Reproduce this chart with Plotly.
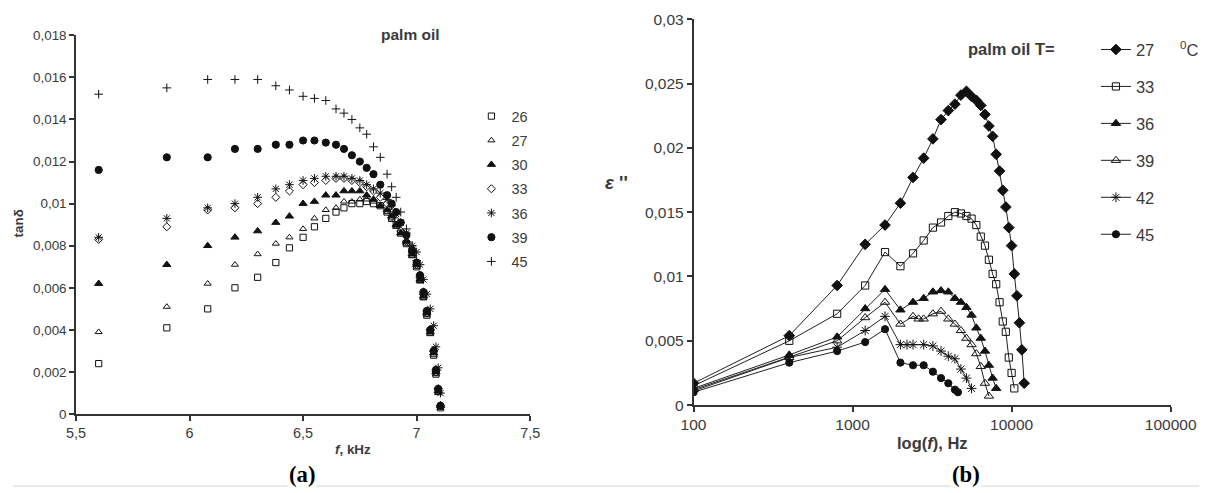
import plotly.graph_objects as go

# ---------------- (a) tan(delta) vs frequency, kHz ----------------
f_khz = [5.6, 5.9, 6.08, 6.2, 6.3, 6.38, 6.44, 6.5, 6.55, 6.6, 6.645, 6.68, 6.715, 6.75,
         6.78, 6.81, 6.84, 6.87, 6.89, 6.91, 6.93, 6.955, 6.98, 7.0, 7.015, 7.03, 7.045,
         7.06, 7.075, 7.085, 7.095, 7.105]

tan_26 = [0.0024, 0.0041, 0.0050, 0.0060, 0.0065, 0.0072, 0.0079, 0.0084, 0.0089, 0.0093,
          0.0096, 0.0098, 0.0100, 0.0100, 0.0101, 0.0100, 0.0099, 0.0096, 0.0093, 0.0090,
          0.0086, 0.0081, 0.0076, 0.0070, 0.0064, 0.0056, 0.0047, 0.0039, 0.0028, 0.0019,
          0.0011, 0.0003]
tan_27 = [0.0039, 0.0051, 0.0062, 0.0071, 0.0076, 0.0081, 0.0084, 0.0088, 0.0093, 0.0097,
          0.0098, 0.0101, 0.0101, 0.0102, 0.0102, 0.0101, 0.0099, 0.0096, 0.0093, 0.0089,
          0.0086, 0.0081, 0.0075, 0.0070, 0.0063, 0.0055, 0.0047, 0.0038, 0.0028, 0.0019,
          0.0010, 0.0003]
tan_30 = [0.0062, 0.0071, 0.0080, 0.0084, 0.0087, 0.0091, 0.0094, 0.0100, 0.0101, 0.0104,
          0.0104, 0.0106, 0.0106, 0.0106, 0.0104, 0.0102, 0.0099, 0.0097, 0.0094, 0.0090,
          0.0086, 0.0082, 0.0076, 0.0071, 0.0064, 0.0056, 0.0048, 0.0039, 0.0029, 0.0020,
          0.0011, 0.0004]
tan_33 = [0.0083, 0.0089, 0.0097, 0.0098, 0.0100, 0.0103, 0.0106, 0.0109, 0.0110, 0.0111,
          0.0112, 0.0112, 0.0111, 0.0110, 0.0108, 0.0106, 0.0103, 0.0100, 0.0096, 0.0092,
          0.0087, 0.0082, 0.0077, 0.0071, 0.0065, 0.0057, 0.0048, 0.0040, 0.0030, 0.0020,
          0.0012, 0.0004]
tan_36 = [0.0084, 0.0093, 0.0098, 0.0100, 0.0103, 0.0107, 0.0109, 0.0111, 0.0112, 0.0113,
          0.0113, 0.0113, 0.0112, 0.0111, 0.0109, 0.0107, 0.0105, 0.0102, 0.0099, 0.0095,
          0.0091, 0.0086, 0.0080, 0.0077, 0.0071, 0.0064, 0.0057, 0.0050, 0.0042, 0.0032,
          0.0022, 0.0010]
tan_39 = [0.0116, 0.0122, 0.0122, 0.0126, 0.0126, 0.0128, 0.0128, 0.0130, 0.0130, 0.0129,
          0.0128, 0.0126, 0.0123, 0.0120, 0.0117, 0.0114, 0.0109, 0.0104, 0.0100, 0.0096,
          0.0091, 0.0085, 0.0078, 0.0072, 0.0066, 0.0058, 0.0049, 0.0040, 0.0030, 0.0021,
          0.0012, 0.0004]
tan_45 = [0.0152, 0.0155, 0.0159, 0.0159, 0.0159, 0.0156, 0.0154, 0.0151, 0.0150, 0.0149,
          0.0145, 0.0143, 0.0140, 0.0136, 0.0133, 0.0127, 0.0122, 0.0114, 0.0108, 0.0103,
          0.0096, 0.0088, 0.0080, 0.0073, 0.0066, 0.0058, 0.0049, 0.0040, 0.0030, 0.0021,
          0.0012, 0.0004]

a_labels = ["26", "27", "30", "33", "36", "39", "45"]
a_series = [tan_26, tan_27, tan_30, tan_33, tan_36, tan_39, tan_45]
a_symbols = ["square-open", "triangle-up-open", "triangle-up", "diamond-open",
             "asterisk-open", "circle", "cross-thin-open"]
a_sizes = [6, 6, 7, 6, 7, 7, 6]

a_xticks = [5.5, 6, 6.5, 7, 7.5]
a_xtext = ["5,5", "6", "6,5", "7", "7,5"]
a_yticks = [0, 0.002, 0.004, 0.006, 0.008, 0.01, 0.012, 0.014, 0.016, 0.018]
a_ytext = ["0", "0,002", "0,004", "0,006", "0,008", "0,01", "0,012", "0,014", "0,016", "0,018"]

# ---------------- (b) epsilon'' vs frequency, Hz (log) ----------------
f_27 = [100, 400, 800, 1200, 1600, 2000, 2400, 2800, 3200, 3600, 4000, 4400, 4800, 5200,
        5600, 6000, 6400, 6800, 7200, 7600, 8000, 8400, 8800, 9200, 9600, 10000, 10400,
        10800, 11200, 11600, 12000]
eps_27 = [0.0017, 0.0054, 0.0093, 0.0125, 0.0140, 0.0157, 0.0177, 0.0192, 0.0207, 0.0222,
          0.0229, 0.0234, 0.0241, 0.0244, 0.0240, 0.0237, 0.0233, 0.0226, 0.0217, 0.0209,
          0.0195, 0.0182, 0.0167, 0.0154, 0.0138, 0.0124, 0.0102, 0.0085, 0.0064, 0.0043,
          0.0017]
f_33 = [100, 400, 800, 1200, 1600, 2000, 2400, 2800, 3200, 3600, 4000, 4400, 4800, 5200,
        5600, 6000, 6400, 6800, 7200, 7600, 8000, 8400, 8800, 9200, 9600, 10000, 10400]
eps_33 = [0.0015, 0.0050, 0.0071, 0.0093, 0.0119, 0.0108, 0.0118, 0.0128, 0.0138, 0.0142,
          0.0147, 0.0150, 0.0149, 0.0147, 0.0145, 0.0140, 0.0131, 0.0124, 0.0113, 0.0102,
          0.0094, 0.0080, 0.0065, 0.0057, 0.0037, 0.0025, 0.0013]
f_36 = [100, 400, 800, 1200, 1600, 2000, 2400, 2800, 3200, 3600, 4000, 4400, 4800, 5200,
        5600, 6000, 6400, 6800, 7200, 7600, 8000]
eps_36 = [0.0013, 0.0039, 0.0053, 0.0075, 0.0090, 0.0074, 0.0080, 0.0083, 0.0088, 0.0089,
          0.0088, 0.0083, 0.0080, 0.0076, 0.0070, 0.0060, 0.0052, 0.0042, 0.0031, 0.0021,
          0.0013]
f_39 = [100, 400, 800, 1200, 1600, 2000, 2400, 2600, 2800, 3200, 3600, 4000, 4400, 4800,
        5200, 5600, 6000, 6400, 6800, 7200]
eps_39 = [0.0012, 0.0037, 0.0050, 0.0068, 0.0080, 0.0063, 0.0069, 0.0067, 0.0067, 0.0071,
          0.0073, 0.0067, 0.0063, 0.0058, 0.0052, 0.0047, 0.0040, 0.0030, 0.0017, 0.0007]
f_42 = [100, 400, 800, 1200, 1600, 2000, 2200, 2400, 2800, 3200, 3600, 4000, 4400, 4800,
        5200, 5600]
eps_42 = [0.0011, 0.0037, 0.0045, 0.0058, 0.0069, 0.0047, 0.0047, 0.0047, 0.0047, 0.0046,
          0.0042, 0.0038, 0.0036, 0.0028, 0.0021, 0.0013]
f_45 = [100, 400, 800, 1200, 1600, 2000, 2400, 2800, 3200, 3600, 4000, 4400, 4600]
eps_45 = [0.0010, 0.0033, 0.0042, 0.0049, 0.0059, 0.0033, 0.0031, 0.0031, 0.0026, 0.0021,
          0.0017, 0.0012, 0.0010]

b_labels = ["27", "33", "36", "39", "42", "45"]
b_freqs = [f_27, f_33, f_36, f_39, f_42, f_45]
b_series = [eps_27, eps_33, eps_36, eps_39, eps_42, eps_45]
b_symbols = ["diamond", "square-open", "triangle-up", "triangle-up-open", "asterisk-open", "circle"]
b_sizes = [8, 7, 8, 8, 8, 7]

b_xticks = [100, 1000, 10000, 100000]
b_xtext = ["100", "1000", "10000", "100000"]
b_yticks = [0, 0.005, 0.01, 0.015, 0.02, 0.025, 0.03]
b_ytext = ["0", "0,005", "0,01", "0,015", "0,02", "0,025", "0,03"]

FONT = "Liberation Sans, Arial, sans-serif"
TXT = "#3a3a3a"
INK = "#111111"

# layout grid: positions below are given on a 1206x493 sheet and mapped onto the figure
SX, SY, OFF = 0.972, 0.966, 8
W, H = 1225, 494
K = 1.03  # text / marker size factor for the larger canvas


def px(x):
    return (x / SX - OFF) / W


def py(y):
    return 1 - (y / SY - OFF) / H


def fs(v):
    return round(v * K, 1)


fig = go.Figure()

for name, vals, sym, sz in zip(a_labels, a_series, a_symbols, a_sizes):
    fig.add_trace(go.Scatter(
        x=f_khz, y=vals, mode="markers", name=name, xaxis="x", yaxis="y",
        legend="legend", legendgroup="a" + name,
        marker=dict(symbol=sym, size=fs(sz), color=INK, line=dict(color=INK, width=1)),
    ))

for name, fx, vals, sym, sz in zip(b_labels, b_freqs, b_series, b_symbols, b_sizes):
    fig.add_trace(go.Scatter(
        x=fx, y=vals, mode="lines+markers", name=name, xaxis="x2", yaxis="y2",
        legend="legend2", legendgroup="b" + name,
        line=dict(color="#222222", width=1),
        marker=dict(symbol=sym, size=fs(sz), color=INK, line=dict(color=INK, width=1)),
    ))

axis_common = dict(showgrid=False, zeroline=False, showline=True, linecolor="#333333",
                   linewidth=1.5, ticks="outside", ticklen=5, tickwidth=1.5,
                   tickcolor="#333333", mirror=False)

fig.update_layout(
    width=W, height=H,
    margin=dict(l=0, r=0, t=0, b=0),
    paper_bgcolor="white", plot_bgcolor="white",
    font=dict(family=FONT, color=TXT),
    xaxis=dict(domain=[px(71), px(527)], range=[5.5, 7.5], anchor="y",
               tickvals=a_xticks, ticktext=a_xtext, tickfont=dict(size=fs(14)), **axis_common),
    yaxis=dict(domain=[py(413), py(34)], range=[0, 0.018], anchor="x",
               tickvals=a_yticks, ticktext=a_ytext, tickfont=dict(size=fs(13)), **axis_common),
    xaxis2=dict(domain=[px(691), px(1170)], type="log", range=[2, 5], anchor="y2",
                tickvals=b_xticks, ticktext=b_xtext, tickfont=dict(size=fs(15)), **axis_common),
    yaxis2=dict(domain=[py(404), py(18)], range=[0, 0.03], anchor="x2",
                tickvals=b_yticks, ticktext=b_ytext, tickfont=dict(size=fs(15)), **axis_common),
    legend=dict(x=px(468), y=py(99), xanchor="left", yanchor="top",
                bgcolor="rgba(0,0,0,0)", font=dict(size=fs(14), color=TXT),
                tracegroupgap=2.5, itemwidth=30),
    legend2=dict(x=px(1095), y=py(31), xanchor="left", yanchor="top",
                 bgcolor="rgba(0,0,0,0)", font=dict(size=fs(16), color=TXT),
                 tracegroupgap=12.5, itemwidth=30),
    showlegend=True,
)

ann = [
    dict(x=407, y=33, text="<b>palm oil</b>", size=15),
    dict(x=13, y=222, text="<b>tanδ</b>", size=13, angle=-90),
    dict(x=349, y=448, text="<b><i>f</i>, kHz</b>", size=13),
    dict(x=1010, y=48, text="<b>palm oil T=</b>", size=16),
    dict(x=1188, y=48, text="<sup>0</sup>C", size=16),
    dict(x=614, y=181, text="<b><i>ε</i> ''</b>", size=18),
    dict(x=931, y=442, text="<b>log(<i>f</i>), Hz</b>", size=16),
]
for a in ann:
    fig.add_annotation(
        x=px(a["x"]), y=py(a["y"]), xref="paper", yref="paper",
        text=a["text"], showarrow=False, xanchor="center", yanchor="middle",
        textangle=a.get("angle", 0), font=dict(family=FONT, size=fs(a["size"]), color=TXT),
    )

# thin rule under the two panels, interrupted by the panel captions
fig.add_shape(type="line", xref="paper", yref="paper", x0=0, x1=1, y0=py(485),
              y1=py(485), line=dict(color="#d4d4d4", width=1))
for cx, label in [(298, "(a)"), (965, "(b)")]:
    fig.add_annotation(
        x=px(cx), y=py(473), xref="paper", yref="paper", text="<b>" + label + "</b>",
        showarrow=False, xanchor="center", yanchor="middle", bgcolor="white",
        font=dict(family="Liberation Serif, Times New Roman, serif", size=fs(22), color="#000000"),
    )

fig.write_html("out.html")
